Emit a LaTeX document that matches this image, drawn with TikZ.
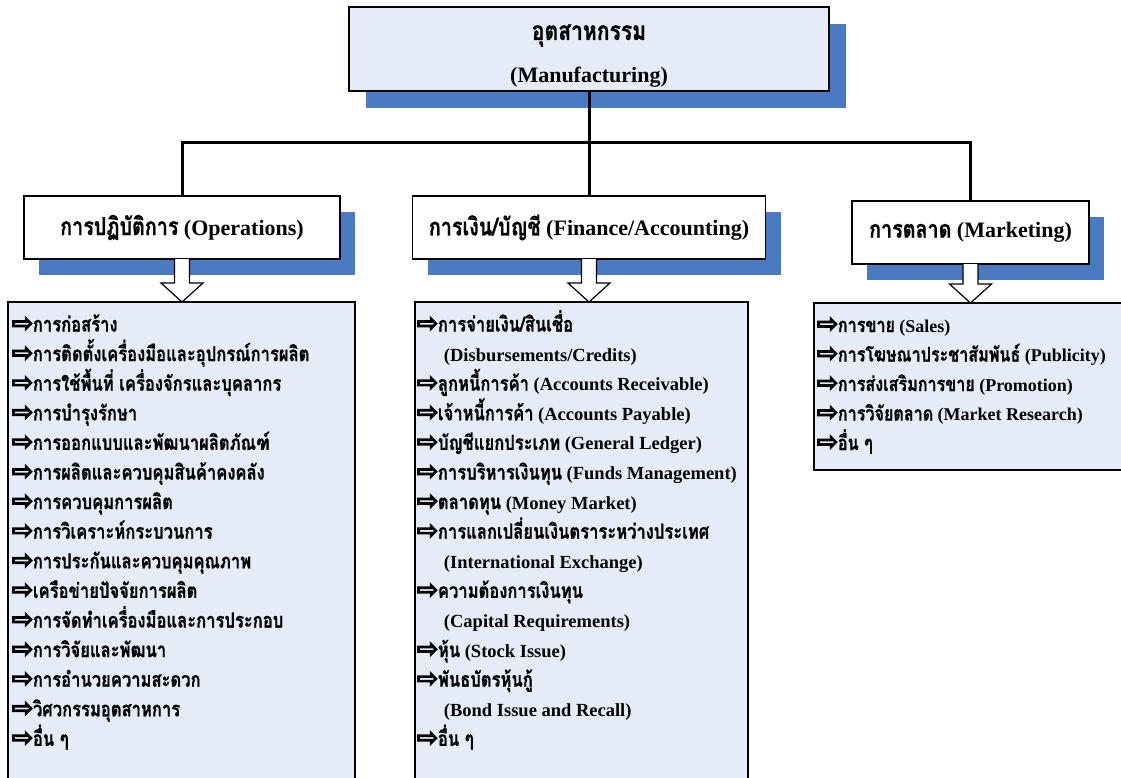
\documentclass[tikz,border=0pt]{standalone}
\usepackage{fontspec}
\setmainfont{Liberation Serif}
\newfontfamily\thaifont[Script=Thai,Scale=1.12,FakeStretch=0.8,BoldFeatures={FakeBold=0.6}]{Loma}
\newfontfamily\arrowfont[FakeBold=6]{DejaVu Sans}
\usetikzlibrary{shadows}
\definecolor{panelfill}{HTML}{E6ECF7}
\definecolor{shadowblue}{HTML}{4A7BC2}
% Thai run and the arrow bullet used in the lists
\newcommand\T[1]{{\thaifont\bfseries #1}}
\newcommand\bul{{\arrowfont\mdseries\fontsize{25}{25}\selectfont ⇨}}
\newcommand\cont{\phantom{\bul}\hspace*{6pt}}
\newcommand\firstline[1]{\rule{0pt}{#1}}
% downward block arrow from a box edge: #1 anchor, #2 shaft length
\newcommand\blockdown[2]{%
  \draw[blockarrow] (#1) ++(-7.5,0) -- ++(0,#2) -- ++(-13.5,0) -- ++(21,19)
    -- ++(21,-19) -- ++(-13.5,0) -- ++(0,-#2);}
\begin{document}
\begin{tikzpicture}[x=1pt,y=-1pt,
  every node/.style={inner sep=0pt, outer sep=0pt},
  topbox/.style={draw=black, line width=1.6pt, fill=panelfill,
    minimum width=480pt, minimum height=84pt,
    drop shadow={shadow xshift=17pt, shadow yshift=-17pt, fill=shadowblue, opacity=1}},
  titletext/.style={anchor=north, align=center,
    font=\fontsize{22}{43}\selectfont\bfseries},
  headbox/.style={draw=black, line width=1.6pt, fill=white, minimum height=63pt,
    font=\fontsize{22}{26}\selectfont\bfseries,
    drop shadow={shadow xshift=15pt, shadow yshift=-16pt, fill=shadowblue, opacity=1}},
  listbox/.style={draw=black, line width=1.4pt, fill=panelfill},
  listtext/.style={anchor=north west, align=left,
    font=\fontsize{18.5}{29.6}\selectfont\bfseries},
  bus/.style={line width=3pt},
  blockarrow/.style={draw=black, line width=1.2pt, fill=white, line join=miter}]
\useasboundingbox (0,0) rectangle (1121,778);
\clip (0,0) rectangle (1121,778);

% title and the three departments
\node[topbox] (top) at (589,49) {};
\node[titletext] (title) at (589,16) {\firstline{24pt}{\fontsize{23.5}{43}\selectfont\T{อุตสาหกรรม}}\\(Manufacturing)};
\node[headbox, minimum width=316pt] (ops) at (182,227.5) {\T{การปฏิบัติการ} (Operations)};
\node[headbox, minimum width=353pt] (fin) at (589,227.5) {\T{การเงิน/บัญชี} (Finance/Accounting)};
\node[headbox, minimum width=237pt] (mkt) at (970.5,232.5) {\T{การตลาด} (Marketing)};

% tree connectors
\coordinate (junction) at (589,143);
\draw[bus] (top.south) -- (junction);
\draw[bus] (junction) -| (ops.north);
\draw[bus] (junction) -| (mkt.north);
\draw[bus] (junction) -- (fin.north);

% list panels
\node[listbox, minimum width=347pt, minimum height=498pt] (opsl) at (181.5,551) {};
\node[listbox, minimum width=333pt, minimum height=498pt] (finl) at (581.5,551) {};
\node[listbox, minimum width=321pt, minimum height=167pt] (mktl) at (974.5,386.5) {};

\node[listtext] (opst) at (12,309.5) {%
\firstline{22pt}\bul\T{การก่อสร้าง}\\
\bul\T{การติดตั้งเครื่องมือและอุปกรณ์การผลิต}\\
\bul\T{การใช้พื้นที่ เครื่องจักรและบุคลากร}\\
\bul\T{การบำรุงรักษา}\\
\bul\T{การออกแบบและพัฒนาผลิตภัณฑ์}\\
\bul\T{การผลิตและควบคุมสินค้าคงคลัง}\\
\bul\T{การควบคุมการผลิต}\\
\bul\T{การวิเคราะห์กระบวนการ}\\
\bul\T{การประกันและควบคุมคุณภาพ}\\
\bul\T{เครือข่ายปัจจัยการผลิต}\\
\bul\T{การจัดทำเครื่องมือและการประกอบ}\\
\bul\T{การวิจัยและพัฒนา}\\
\bul\T{การอำนวยความสะดวก}\\
\bul\T{วิศวกรรมอุตสาหการ}\\
\bul\T{อื่น ๆ}};

\node[listtext] (fint) at (417,309.5) {%
\firstline{22pt}\bul\T{การจ่ายเงิน/สินเชื่อ}\\
\cont(Disbursements/Credits)\\
\bul\T{ลูกหนี้การค้า} (Accounts Receivable)\\
\bul\T{เจ้าหนี้การค้า} (Accounts Payable)\\
\bul\T{บัญชีแยกประเภท} (General Ledger)\\
\bul\T{การบริหารเงินทุน} (Funds Management)\\
\bul\T{ตลาดทุน} (Money Market)\\
\bul\T{การแลกเปลี่ยนเงินตราระหว่างประเทศ}\\
\cont(International Exchange)\\
\bul\T{ความต้องการเงินทุน}\\
\cont(Capital Requirements)\\
\bul\T{หุ้น} (Stock Issue)\\
\bul\T{พันธบัตรหุ้นกู้}\\
\cont(Bond Issue and Recall)\\
\bul\T{อื่น ๆ}};

\node[listtext, font=\fontsize{18}{29.5}\selectfont\bfseries] (mktt) at (817,310) {%
\firstline{22pt}\bul\T{การขาย} (Sales)\\
\bul\T{การโฆษณาประชาสัมพันธ์} (Publicity)\\
\bul\T{การส่งเสริมการขาย} (Promotion)\\
\bul\T{การวิจัยตลาด} (Market Research)\\
\bul\T{อื่น ๆ}};

% block arrows into the panels
\blockdown{ops.south}{24}
\blockdown{fin.south}{24}
\blockdown{mkt.south}{20}
\end{tikzpicture}
\end{document}
